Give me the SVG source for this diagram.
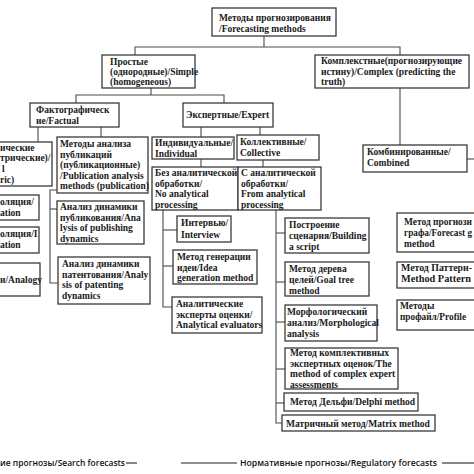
<svg xmlns="http://www.w3.org/2000/svg" width="474" height="474" viewBox="0 0 474 474">
<style>
rect{fill:#fff;stroke:#3a3a3a;stroke-width:1.3}
text{font-family:"Liberation Serif","Times New Roman",serif;font-weight:bold;font-size:9.5px;fill:#1a1a1a}
.c line,.c polyline{stroke:#4a4a4a;stroke-width:1.1;fill:none}
.s{font-family:"Open Sans","DejaVu Sans",sans-serif;font-weight:600;font-size:9.6px;fill:#111}
.lg{stroke:#222;stroke-width:1.1}
</style>
<rect x="0" y="0" width="474" height="474" style="stroke:none"/>
<g class="c" id="connectors">
<line x1="264" y1="36" x2="264" y2="47"/>
<polyline points="135,55 135,47 400,47 400,55"/>
<line x1="151" y1="88" x2="151" y2="95"/>
<polyline points="76,103 76,95 224,95 224,103"/>
<line x1="400" y1="88" x2="400" y2="145"/>
<line x1="467" y1="159" x2="474" y2="159"/>
<line x1="38" y1="127" x2="38" y2="142"/>
<line x1="101" y1="127" x2="101" y2="137"/>
<line x1="201" y1="127" x2="201" y2="137"/>
<line x1="260" y1="127" x2="260" y2="135"/>
<polyline points="57,190 50,190 50,283 58,283"/>
<line x1="50" y1="209" x2="57" y2="209"/>
<line x1="201" y1="159" x2="201" y2="167"/>
<line x1="263" y1="160" x2="263" y2="167"/>
<polyline points="163,210 163,307 172,307"/>
<line x1="163" y1="230" x2="177" y2="230"/>
<line x1="163" y1="266" x2="173" y2="266"/>
<polyline points="276,210 276,423 282,423"/>
<line x1="276" y1="233" x2="285" y2="233"/>
<line x1="276" y1="282" x2="285" y2="282"/>
<line x1="276" y1="322" x2="285" y2="322"/>
<line x1="276" y1="369" x2="285" y2="369"/>
<line x1="276" y1="403" x2="284" y2="403"/>
</g>
<g id="n-root"><rect x="212" y="8" width="124" height="28"/><text x="219" y="21">Методы прогнозирования</text><text x="219" y="32">/Forecasting methods</text></g>
<g id="n-simple"><rect x="102" y="55" width="93" height="33"/><text x="110" y="65">Простые</text><text x="110" y="75">(однородные)/Simple</text><text x="110" y="85">(homogeneous)</text></g>
<g id="n-complex"><rect x="315" y="55" width="154" height="33"/><text x="321" y="64">Комплекстные(прогнозирующие</text><text x="321" y="74.5">истину)/Complex (predicting the</text><text x="321" y="85">truth)</text></g>
<g id="n-factual"><rect x="30" y="103" width="89" height="24"/><text x="36" y="113">Фактографическ</text><text x="36" y="124">ие/Factual</text></g>
<g id="n-expert"><rect x="183" y="103" width="90" height="24"/><text x="186" y="118">Экспертные/Expert</text></g>
<g id="n-combined"><rect x="363" y="145" width="104" height="27"/><text x="367" y="155">Комбинированные/</text><text x="367" y="166">Combined</text></g>
<g id="n-biblio"><rect x="-2" y="142" width="54" height="44"/><text x="0" y="151">ические</text><text x="0" y="161">трические)/</text><text x="2" y="172">l</text><text x="0" y="183">ric)</text></g>
<g id="n-extrap"><rect x="-2" y="195" width="41" height="25"/><text x="0" y="205">оляция/</text><text x="0" y="216">ation</text></g>
<g id="n-interp"><rect x="-2" y="227" width="41" height="26"/><text x="0" y="237">оляция/I</text><text x="0" y="248">ation</text></g>
<g id="n-analogy"><rect x="-2" y="263" width="42" height="33"/><text x="0" y="283">и/Analogy</text></g>
<g id="n-pub"><rect x="57" y="137" width="91" height="56"/><text x="60" y="147">Методы анализа</text><text x="60" y="157.5">публикаций</text><text x="60" y="168">(публикационные)</text><text x="60" y="178.5">/Publication analysis</text><text x="60" y="189">methods (publication)</text></g>
<g id="n-pubdyn"><rect x="57" y="201" width="87" height="43"/><text x="60" y="210">Анализ динамики</text><text x="60" y="220.5">публикования/Ana</text><text x="60" y="231">lysis of publishing</text><text x="60" y="241.5">dynamics</text></g>
<g id="n-patdyn"><rect x="58" y="257" width="92" height="47"/><text x="62" y="267">Анализ динамики</text><text x="62" y="277.5">патентования/Analy</text><text x="62" y="288">sis of patenting</text><text x="62" y="298.5">dynamics</text></g>
<g id="n-indiv"><rect x="152" y="137" width="82" height="22"/><text x="155" y="146">Индивидуальные/</text><text x="155" y="156.5">Individual</text></g>
<g id="n-collect"><rect x="237" y="135" width="82" height="25"/><text x="240" y="145">Коллективные/</text><text x="240" y="156">Collective</text></g>
<g id="n-noan"><rect x="152" y="167" width="86" height="43"/><text x="155" y="176">Без аналитической</text><text x="155" y="186.5">обработки/</text><text x="155" y="197">No analytical</text><text x="155" y="207.5">processing</text></g>
<g id="n-withan"><rect x="238" y="167" width="83" height="43"/><text x="241" y="176">С аналитической</text><text x="241" y="186.5">обработки/</text><text x="241" y="197">From analytical</text><text x="241" y="207.5">processing</text></g>
<g id="n-interview"><rect x="177" y="216" width="54" height="26"/><text x="181" y="226">Интервью/</text><text x="181" y="237.5">Interview</text></g>
<g id="n-idea"><rect x="173" y="250" width="84" height="34"/><text x="177" y="260">Метод генерации</text><text x="177" y="270.5">идеи/Idea</text><text x="177" y="281">generation method</text></g>
<g id="n-analyt"><rect x="172" y="297" width="90" height="36"/><text x="176" y="307">Аналитические</text><text x="176" y="317.5">эксперты оценки/</text><text x="176" y="328">Analytical evaluators</text></g>
<g id="n-script"><rect x="285" y="218" width="84" height="35"/><text x="289" y="228">Построение</text><text x="289" y="239">сценария/Building</text><text x="289" y="250">a script</text></g>
<g id="n-goal"><rect x="285" y="262" width="84" height="34"/><text x="289" y="272">Метод дерева</text><text x="289" y="283">целей/Goal tree</text><text x="289" y="294">method</text></g>
<g id="n-morph"><rect x="285" y="305" width="92" height="36"/><text x="287" y="315">Морфологический</text><text x="287" y="326">анализ/Morphological</text><text x="287" y="337">analysis</text></g>
<g id="n-complexexp"><rect x="285" y="348" width="113" height="41"/><text x="290" y="356">Метод комплективных</text><text x="290" y="366.5">экспертных оценок/The</text><text x="290" y="377">method of complex expert</text><text x="290" y="387.5">assessments</text></g>
<g id="n-delphi"><rect x="284" y="393" width="134" height="18"/><text x="290" y="405">Метод Дельфи/Delphi method</text></g>
<g id="n-matrix"><rect x="282" y="415" width="153" height="16"/><text x="286" y="427">Матричный метод/Matrix method</text></g>
<g id="n-graph"><rect x="397" y="213" width="80" height="39"/><text x="404" y="225" textLength="68" lengthAdjust="spacingAndGlyphs">Метод прогнози</text><text x="404" y="236" textLength="68" lengthAdjust="spacingAndGlyphs">графа/Forecast g</text><text x="404" y="247">method</text></g>
<g id="n-pattern"><rect x="397" y="262" width="80" height="26"/><text x="401" y="271" textLength="71" lengthAdjust="spacingAndGlyphs">Метод Паттерн-</text><text x="401" y="282" textLength="70" lengthAdjust="spacingAndGlyphs">Method Pattern</text></g>
<g id="n-profile"><rect x="397" y="300" width="80" height="30"/><text x="400" y="309">Методы</text><text x="400" y="320" textLength="66" lengthAdjust="spacingAndGlyphs">профайл/Profile</text></g>
<g id="legend">
<text class="s" x="0" y="466" textLength="125" lengthAdjust="spacingAndGlyphs">ие прогнозы/Search forecasts</text>
<line class="lg" x1="126" y1="463" x2="137" y2="463"/>
<line class="lg" x1="181" y1="463" x2="237" y2="463"/>
<text class="s" x="240" y="466" textLength="197" lengthAdjust="spacingAndGlyphs">Нормативные прогнозы/Regulatory forecasts</text>
<line class="lg" x1="442" y1="463" x2="474" y2="463"/>
</g>
</svg>
